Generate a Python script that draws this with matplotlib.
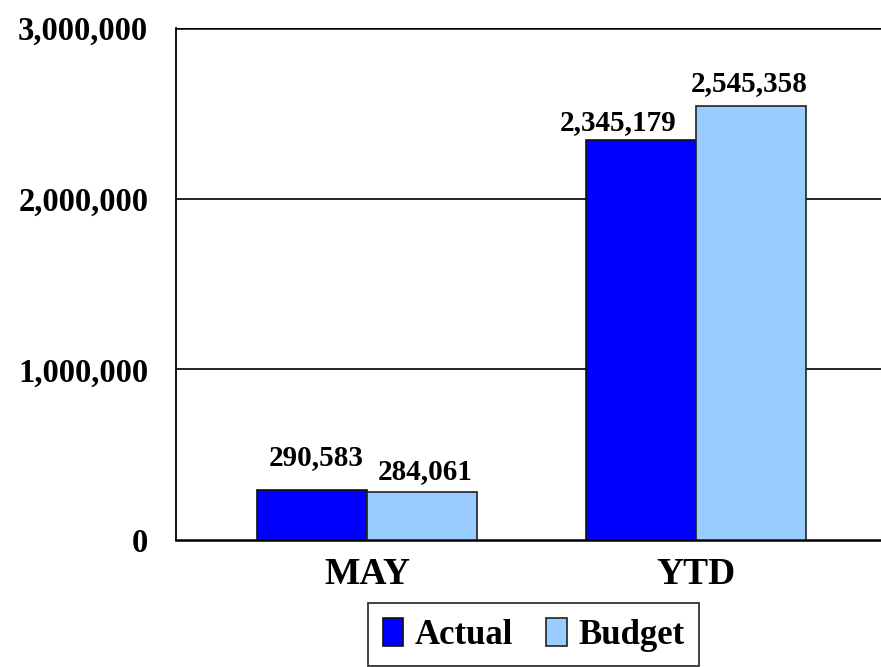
import matplotlib
matplotlib.use("Agg")
import matplotlib.pyplot as plt
import numpy as np

# chart data
categories = ["MAY", "YTD"]
actual = [290583, 2345179]
budget = [284061, 2545358]
series_names = ["Actual", "Budget"]
y_ticks = [0, 1000000, 2000000, 3000000]

plt.rcParams["font.family"] = ["Liberation Serif", "DejaVu Serif"]
plt.rcParams["font.weight"] = "bold"

fig = plt.figure(figsize=(8.81, 6.67), dpi=100)
ax = fig.add_axes([176 / 881, 1 - 540 / 667, 1 - 176 / 881, (540 - 28) / 667])

x = np.arange(len(categories))
w = 0.335
bars_a = ax.bar(x - w / 2, actual, w, color="#0000FF", edgecolor="#111111",
                linewidth=1.2, label=series_names[0], zorder=3)
bars_b = ax.bar(x + w / 2, budget, w, color="#99CCFF", edgecolor="#222222",
                linewidth=1.2, label=series_names[1], zorder=3)

# value label offsets in pixels (dx, dy above the bar top), as placed in the original
offs_a = [(4, 25), (-23, 10)]
offs_b = [(3, 12), (-2, 15)]
for bars, vals, offs in ((bars_a, actual, offs_a), (bars_b, budget, offs_b)):
    for b, v, o in zip(bars, vals, offs):
        ax.annotate(f"{v:,}", (b.get_x() + b.get_width() / 2, v),
                    xytext=o, textcoords="offset pixels",
                    ha="center", va="baseline", fontsize=21, fontweight="bold",
                    zorder=4)

ax.set_xlim(-0.582, 1.564)
ax.set_ylim(0, 3000000)
ax.set_yticks(y_ticks)
ax.set_yticklabels([f"{t:,}" for t in y_ticks], fontsize=23.5, fontweight="bold")
ax.set_xticks(x)
ax.set_xticklabels(categories, fontsize=27, fontweight="bold")
ax.tick_params(axis="y", length=0, pad=20)
ax.tick_params(axis="x", length=0, pad=12)

for yv in y_ticks[1:]:
    ax.axhline(yv, color="black", linewidth=1.2 if yv < y_ticks[-1] else 1.8,
               zorder=1)

ax.spines["right"].set_visible(False)
ax.spines["top"].set_visible(False)
ax.spines["left"].set_linewidth(1.3)
ax.spines["bottom"].set_linewidth(1.8)

leg = fig.legend(handles=[bars_a, bars_b], labels=series_names,
                 loc="upper left", bbox_to_anchor=(368 / 881, 1 - 603 / 667),
                 ncol=2, fontsize=25, frameon=True, fancybox=False,
                 handlelength=0.6, handleheight=0.86, handletextpad=0.33,
                 columnspacing=0.95, borderpad=0.42, borderaxespad=0)
leg.get_frame().set_edgecolor("black")
leg.get_frame().set_linewidth(1.3)
for t in leg.get_texts():
    t.set_fontweight("bold")

fig.savefig("out.png", dpi=100)
